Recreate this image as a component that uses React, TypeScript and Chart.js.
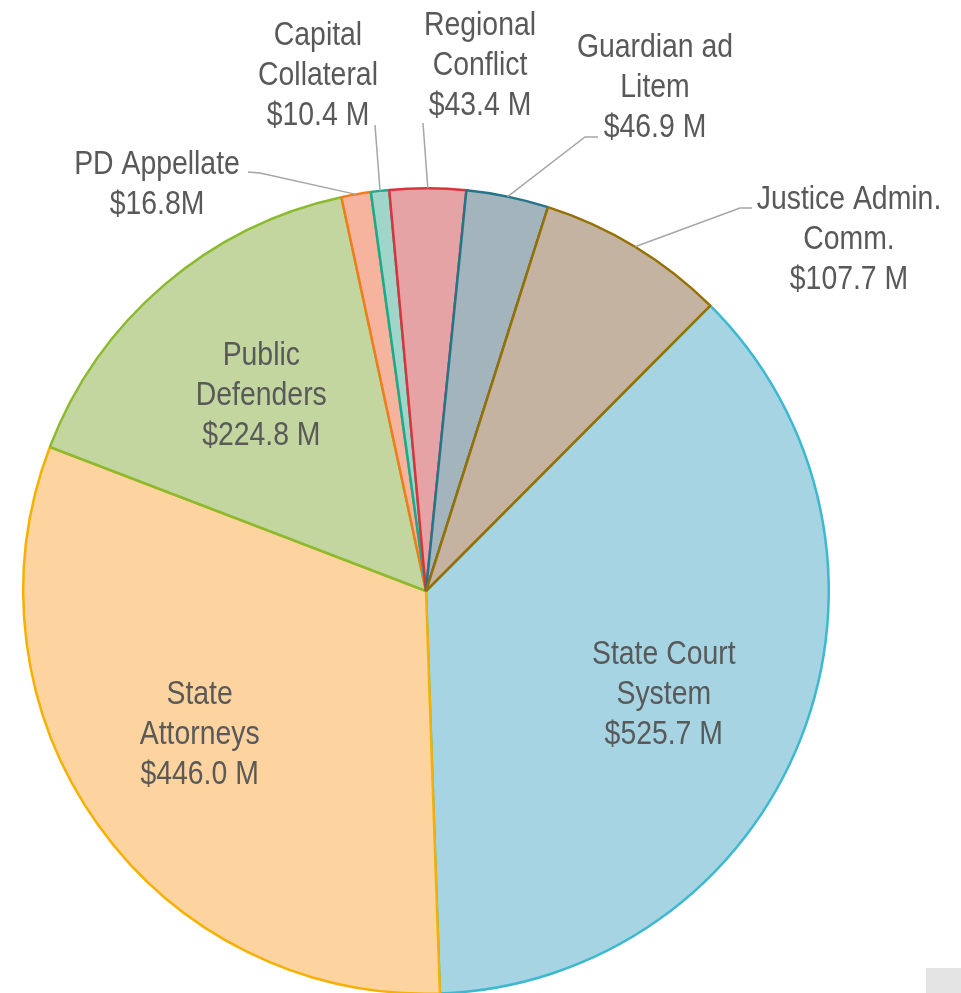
import React, { useEffect, useRef } from "react";
import { Chart, registerables } from "chart.js";

Chart.register(...registerables);

// ---- data ----
const categories = [
  "State Court System",
  "State Attorneys",
  "Public Defenders",
  "PD Appellate",
  "Capital Collateral",
  "Regional Conflict",
  "Guardian ad Litem",
  "Justice Admin. Comm.",
];
const labelLines = [
  ["State Court", "System"],
  ["State", "Attorneys"],
  ["Public", "Defenders"],
  ["PD Appellate"],
  ["Capital", "Collateral"],
  ["Regional", "Conflict"],
  ["Guardian ad", "Litem"],
  ["Justice Admin.", "Comm."],
];
const values = [525.7, 446.0, 224.8, 16.8, 10.4, 43.4, 46.9, 107.7];
const valueSuffix = [" M", " M", " M", "M", " M", " M", " M", " M"];

// ---- styles ----
const fills = ["#A6D4E3", "#FDD49F", "#C3D6A0", "#F6B49E", "#9FD6C9", "#E6A3A6", "#A3B4BD", "#C4B3A1"];
const borders = ["#3CB8D0", "#F5B000", "#8CBA2E", "#F07D1A", "#1AAA90", "#D9343B", "#26748A", "#957000"];

// label layout: inside labels placed along the slice mid-angle; outside labels with leader lines
type Place =
  | { kind: "in"; f: number; dx: number; dy: number }
  | { kind: "out"; x: number; y: number; end: [number, number]; elbow?: [number, number] };
const placement: Place[] = [
  { kind: "in", f: 0.645, dx: -4, dy: 6 },
  { kind: "in", f: 0.66, dx: -10, dy: -13 },
  { kind: "in", f: 0.64, dx: 3, dy: -2 },
  { kind: "out", x: 157, y: 162, end: [248, 172], elbow: [260, 173] },
  { kind: "out", x: 318, y: 33, end: [375, 125] },
  { kind: "out", x: 480, y: 23, end: [423, 123] },
  { kind: "out", x: 655, y: 45, end: [598, 137], elbow: [585, 137] },
  { kind: "out", x: 849, y: 197, end: [752, 208], elbow: [740, 208] },
];

const FONT = '33px "Liberation Sans Narrow", "Arial Narrow", "Liberation Sans", sans-serif';
const SCALE_X = 0.86;
const LINE_H = 40;
const TEXT_COLOR = "#595959";

const labelPlugin = {
  id: "pieLabels",
  afterDatasetsDraw(chart: any) {
    const ctx = chart.ctx as CanvasRenderingContext2D;
    const meta = chart.getDatasetMeta(0);
    ctx.save();
    meta.data.forEach((arc: any, i: number) => {
      const { x, y, startAngle, endAngle, outerRadius } = arc.getProps(
        ["x", "y", "startAngle", "endAngle", "outerRadius"],
        true
      );
      const mid = (startAngle + endAngle) / 2;
      const p = placement[i];
      const lines = [...labelLines[i], "$" + values[i].toFixed(1) + valueSuffix[i]];
      let cx: number, cy: number;
      if (p.kind === "in") {
        const r = outerRadius * p.f;
        cx = x + Math.cos(mid) * r + p.dx;
        cy = y + Math.sin(mid) * r + p.dy - ((lines.length - 1) * LINE_H) / 2;
      } else {
        const sx = x + Math.cos(mid) * outerRadius;
        const sy = y + Math.sin(mid) * outerRadius;
        ctx.strokeStyle = "#A6A6A6";
        ctx.lineWidth = 1.5;
        ctx.beginPath();
        ctx.moveTo(sx, sy);
        if (p.elbow) ctx.lineTo(p.elbow[0], p.elbow[1]);
        ctx.lineTo(p.end[0], p.end[1]);
        ctx.stroke();
        cx = p.x;
        cy = p.y;
      }
      ctx.font = FONT;
      ctx.fillStyle = TEXT_COLOR;
      ctx.textAlign = "center";
      ctx.textBaseline = "alphabetic";
      lines.forEach((t, k) => {
        ctx.save();
        ctx.translate(cx, cy + k * LINE_H + 12);
        ctx.scale(SCALE_X, 1);
        ctx.fillText(t, 0, 0);
        ctx.restore();
      });
    });
    ctx.restore();
  },
};

export default function App() {
  const ref = useRef<HTMLCanvasElement>(null);
  useEffect(() => {
    if (!ref.current) return;
    const chart = new Chart(ref.current, {
      type: "pie",
      data: {
        labels: categories,
        datasets: [
          {
            data: values,
            backgroundColor: fills,
            borderColor: borders,
            borderWidth: 2.5,
          },
        ],
      },
      options: {
        animation: false,
        responsive: false,
        rotation: 44.9,
        layout: { padding: { left: 22, right: 131, top: 187, bottom: 5 } },
        plugins: {
          legend: { display: false },
          tooltip: { enabled: false },
        },
      },
      plugins: [labelPlugin],
    });
    return () => chart.destroy();
  }, []);
  return (
    <div style={{ position: "fixed", left: 0, top: 0, width: 961, height: 993, overflow: "hidden", background: "#fff" }}>
      <canvas ref={ref} width={961} height={1000} style={{ display: "block", width: 961, height: 1000 }} />
      <div style={{ position: "absolute", left: 926, top: 968, width: 35, height: 25, background: "#E4E4E4" }} />
    </div>
  );
}
